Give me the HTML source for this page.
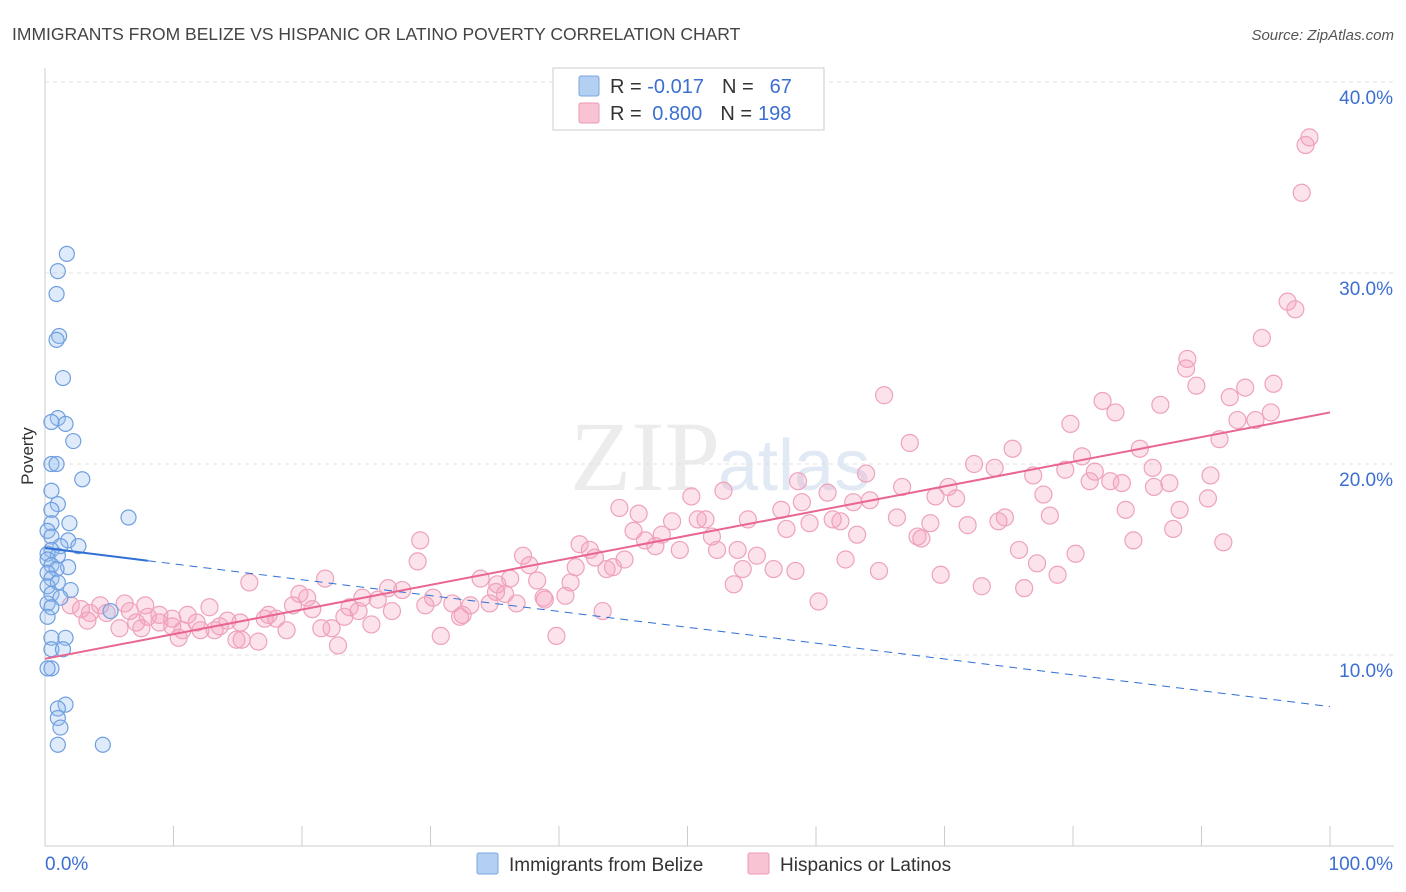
<!DOCTYPE html>
<html><head><meta charset="utf-8">
<style>
body{margin:0;background:#fff;font-family:"Liberation Sans",sans-serif;}
#wrap{position:relative;width:1406px;height:892px;overflow:hidden;}
</style></head>
<body>
<div id="wrap">
<svg id="svg" width="1406" height="892" xmlns="http://www.w3.org/2000/svg">
<text x="12" y="40" font-size="17.5" fill="#444">IMMIGRANTS FROM BELIZE VS HISPANIC OR LATINO POVERTY CORRELATION CHART</text>
<text x="1394" y="40" font-size="15" font-style="italic" fill="#555" text-anchor="end">Source: ZipAtlas.com</text>
<text x="720" y="490" font-size="100" font-family="Liberation Serif,serif" fill="#ececec" text-anchor="end">ZIP</text>
<text x="718" y="490" font-size="72" fill="#e0e9f4">atlas</text>
<text x="33" y="456" font-size="17" fill="#333" text-anchor="middle" transform="rotate(-90 33 456)">Poverty</text>
<g id="grid"></g>
<g id="marks"></g>
<g id="legend">
<rect x="553" y="68" width="271" height="62" fill="#fff" stroke="#ccc"/>
<rect x="579" y="76" width="20" height="20" fill="#b3cff2" stroke="#7aa6e0" rx="2"/>
<rect x="579" y="103" width="20" height="20" fill="#f8c4d4" stroke="#ec9ab3" rx="2"/>
<text x="610" y="93" font-size="20" fill="#333">R = <tspan fill="#3b6fd1">-0.017</tspan><tspan dx="18">N =</tspan><tspan fill="#3b6fd1" dx="16">67</tspan></text>
<text x="610" y="120" font-size="20" fill="#333">R = <tspan fill="#3b6fd1" dx="5">0.800</tspan><tspan dx="18">N =</tspan><tspan fill="#3b6fd1" dx="6">198</tspan></text>
</g>
<g>
<rect x="477" y="853" width="21" height="21" fill="#b3cff2" stroke="#7aa6e0" rx="2"/>
<text x="509" y="871" font-size="19" fill="#333">Immigrants from Belize</text>
<rect x="748" y="853" width="21" height="21" fill="#f8c4d4" stroke="#ec9ab3" rx="2"/>
<text x="780" y="871" font-size="19" fill="#333">Hispanics or Latinos</text>
</g>
</svg>
</div>
<script>
const yTicks=[10,20,30,40];
const yTickLabels=["10.0%","20.0%","30.0%","40.0%"];
const xTickLabels=["0.0%","100.0%"];
const blueX=[1.7,1,0.9,1.1,0.9,1.4,1,1.6,0.5,2.2,0.5,0.9,2.9,0.5,1,6.5,0.5,0.5,1.9,0.2,0.5,1.8,2.6,1.2,0.5,0.2,1,0.2,0.5,1.8,0.9,0.2,0.5,1,0.2,2,0.5,1.2,0.2,0.5,5.1,0.2,0.5,1.6,0.5,1.4,0.5,0.2,1.6,1,1,1.2,1,4.5];
const blueY=[31,30.1,28.9,26.7,26.5,24.5,22.4,22.1,22.2,21.2,20,20,19.2,18.6,17.9,17.2,17.6,16.9,16.9,16.5,16.2,16,15.7,15.7,15.5,15.3,15.2,15,14.7,14.6,14.5,14.3,14,13.8,13.6,13.4,13.2,13,12.7,12.5,12.3,12,10.9,10.9,10.3,10.3,9.3,9.3,7.4,7.2,6.7,6.2,5.3,5.3];
const pinkX=[98.4,98.1,97.8,96.7,97.3,94.7,88.9,88.8,93.4,95.6,89.6,92.2,65.3,82.3,86.8,83.3,95.4,92.8,94.2,79.8,91.4,67.3,75.3,85.2,80.7,72.3,73.9,86.2,79.4,81.7,63.9,76.9,90.7,82.9,81.3,83.8,87.5,86.3,70.3,66.7,58.6,52.8,60.9,77.7,69.3,50.3,64.2,70.9,58.9,62.9,44.7,90.5,88.3,46.2,57.3,84.1,78.2,54.7,50.8,48.8,51.4,61.3,66.3,59.5,61.9,68.9,74.7,74.2,71.8,57.7,45.8,87.8,48,51.9,67.9,63.2,68.2,84.7,29.2,46.7,91.7,41.6,42.4,47.5,49.4,52.3,53.9,75.8,80.2,37.2,42.8,55.4,62.3,45.1,77.2,37.7,41.3,43.7,29,54.3,56.7,44.2,58.4,64.9,78.8,69.7,21.8,33.9,36.2,15.9,35.2,38.3,40.9,53.6,26.7,27.8,72.9,76.2,19.8,20.4,30.2,35.1,35.8,38.8,40.5,24.7,25.9,19.3,31.7,33.1,34.6,36.7,38.9,29.6,23.7,60.2,12.8,20.8,27,24.4,43.4,32.5,32.3,4.3,6.2,7.8,2.8,2,3.5,4.8,6.6,8,8.9,9.9,11.1,11.8,14.2,17.1,18,17.4,23.3,25.4,15.2,13.6,3.3,7.1,8.9,9.9,12.1,10.7,13.2,18.8,21.5,22.3,5.8,7.5,10.4,14.9,15.3,16.6,30.8,39.8,22.8];
const pinkY=[37.1,36.7,34.2,28.5,28.1,26.6,25.5,25,24,24.2,24.1,23.5,23.6,23.3,23.1,22.7,22.7,22.3,22.3,22.1,21.3,21.1,20.8,20.8,20.4,20,19.8,19.8,19.7,19.6,19.5,19.4,19.4,19.1,19.1,19,19,18.8,18.8,18.8,19.1,18.6,18.5,18.4,18.3,18.3,18.1,18.2,18,18,17.7,18.2,17.6,17.4,17.6,17.6,17.3,17.1,17.1,17,17.1,17.1,17.2,16.9,17,16.9,17.2,17,16.8,16.6,16.5,16.6,16.3,16.2,16.2,16.3,16.1,16,16,16,15.9,15.8,15.5,15.7,15.5,15.5,15.5,15.5,15.3,15.2,15.1,15.2,15,15,14.8,14.7,14.6,14.5,14.9,14.5,14.5,14.6,14.4,14.4,14.2,14.2,14,14,14,13.8,13.7,13.9,13.8,13.7,13.5,13.4,13.6,13.5,13.2,13,13,13.3,13.2,13,13.1,13,12.9,12.6,12.7,12.6,12.7,12.7,12.9,12.6,12.5,12.8,12.5,12.4,12.3,12.3,12.3,12.1,12,12.6,12.7,12.6,12.4,12.6,12.2,12.2,12.3,12,12.1,11.9,12.1,11.7,11.8,11.9,11.9,12.1,12,11.6,11.7,11.5,11.8,11.7,11.7,11.5,11.3,11.3,11.3,11.3,11.4,11.4,11.4,11.4,10.9,10.8,10.8,10.7,11,11,10.5];
const blueTrend=[15.6,7.3];
const pinkTrend=[9.8,22.7];

const X0=45,X1=1330,YB=846,PPY=19.1;
function sx(v){return X0+(X1-X0)*v/100;}
function sy(v){return YB-v*PPY;}
const NS="http://www.w3.org/2000/svg";
function mk(t,a,p){const e=document.createElementNS(NS,t);for(const k in a)e.setAttribute(k,a[k]);p.appendChild(e);return e;}
const grid=document.getElementById('grid'),marks=document.getElementById('marks');
yTicks.forEach((t,i)=>{
  const l=mk('line',{x1:X0,x2:1394,y1:sy(t),y2:sy(t),stroke:'#e0e0e0','stroke-dasharray':'4,4'},grid);
  
  
  const tx=mk('text',{x:1393,y:sy(t)+22,'font-size':19,fill:'#3b6fd1','text-anchor':'end'},grid);
  tx.textContent=yTickLabels[i];
  
  
});
const ax=mk('line',{x1:X0,x2:1394,y1:YB,y2:YB,stroke:'#ccc'},grid);


const ay=mk('line',{x1:X0,x2:X0,y1:68,y2:YB,stroke:'#ccc'},grid);


for(let i=0;i<=10;i++){
  const t=mk('line',{x1:sx(i*10),x2:sx(i*10),y1:826,y2:YB,stroke:'#ccc'},grid);
  
  
}
[[0,'start',45],[100,'end',1393]].forEach((d,i)=>{
  const t=mk('text',{x:d[2],y:870,'font-size':19,fill:'#3b6fd1','text-anchor':d[1]},grid);
  t.textContent=xTickLabels[i];
  
  
});
pinkX.forEach((x,i)=>{
  const c=mk('circle',{cx:sx(x),cy:sy(pinkY[i]),r:8.5,fill:'rgba(244,160,188,0.3)',stroke:'#eea2bb','stroke-width':1.2},marks);
  
  
});
blueX.forEach((x,i)=>{
  const c=mk('circle',{cx:sx(x),cy:sy(blueY[i]),r:7.5,fill:'rgba(150,190,240,0.3)',stroke:'#6f9fe0','stroke-width':1.2},marks);
  
  
});
function bt(x){return blueTrend[0]+(blueTrend[1]-blueTrend[0])*x/100;}
const b1=mk('line',{x1:sx(0),y1:sy(bt(0)),x2:sx(8),y2:sy(bt(8)),stroke:'#2f6fd6','stroke-width':2},marks);


const b2=mk('line',{x1:sx(8),y1:sy(bt(8)),x2:sx(100),y2:sy(bt(100)),stroke:'#2f6fd6','stroke-width':1,'stroke-dasharray':'8,6'},marks);


const p1=mk('line',{x1:sx(0),y1:sy(pinkTrend[0]),x2:sx(100),y2:sy(pinkTrend[1]),stroke:'#e8668f','stroke-width':2},marks);


</script>
</body></html>
